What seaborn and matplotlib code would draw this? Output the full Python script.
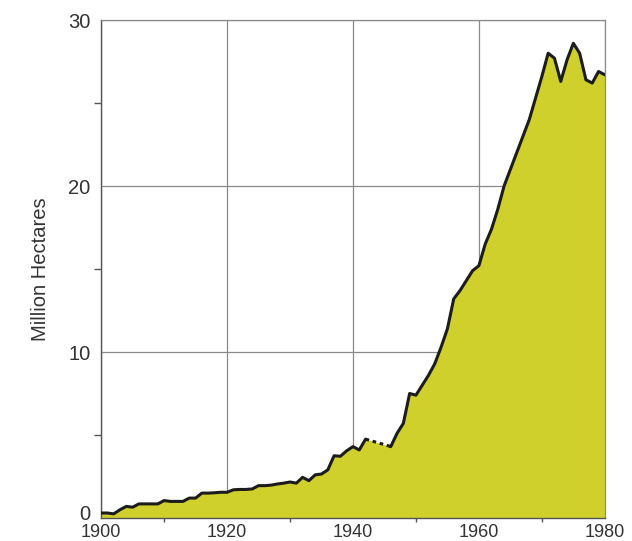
import numpy as np
import pandas as pd
import seaborn as sns
import matplotlib
matplotlib.use('Agg')
import matplotlib.pyplot as plt
import matplotlib.transforms as mtrans

# annual values, million hectares
years = list(range(1900, 1981))
hectares = [0.3, 0.3, 0.25, 0.5, 0.7, 0.65, 0.85, 0.85, 0.85, 0.85,
            1.05, 1.0, 1.0, 1.0, 1.2, 1.2, 1.5, 1.5, 1.52, 1.55,
            1.55, 1.7, 1.72, 1.72, 1.75, 1.95, 1.95, 1.98, 2.05, 2.1,
            2.17, 2.1, 2.45, 2.25, 2.6, 2.65, 2.9, 3.75, 3.72, 4.05,
            4.3, 4.1, 4.75, 4.64, 4.53, 4.42, 4.3, 5.1, 5.7, 7.5,
            7.4, 8.0, 8.6, 9.3, 10.3, 11.4, 13.2, 13.7, 14.3, 14.9,
            15.2, 16.5, 17.4, 18.6, 20.0, 21.0, 22.0, 23.0, 24.0, 25.3,
            26.6, 28.0, 27.7, 26.3, 27.6, 28.6, 28.0, 26.4, 26.2, 26.9,
            26.7]
gap_start, gap_end = 1942, 1946  # war years, estimated (dotted)

df = pd.DataFrame({'year': years, 'ha': hectares})

sns.set_style('white')
plt.rcParams['font.family'] = ['Liberation Sans', 'DejaVu Sans']

fig = plt.figure(figsize=(6.32, 5.41), dpi=100)
ax = fig.add_axes([0.160, 0.0425, 0.797, 0.9205])

ax.fill_between(df['year'], df['ha'], 0, color='#cfd02c', zorder=2, linewidth=0)

before = df[df['year'] <= gap_start]
gap = df[(df['year'] >= gap_start) & (df['year'] <= gap_end)]
after = df[df['year'] >= gap_end]
sns.lineplot(data=before, x='year', y='ha', color='#1c1c1c', linewidth=2.2, ax=ax, zorder=3)
sns.lineplot(data=after, x='year', y='ha', color='#1c1c1c', linewidth=2.2, ax=ax, zorder=3)
sns.lineplot(data=gap, x='year', y='ha', color='#1c1c1c', linewidth=2.2, ax=ax, zorder=3,
             linestyle=(0, (1.2, 1.2)))

ax.set_xlim(1900, 1980)
ax.set_ylim(0, 30)
ax.set_xticks([1900, 1920, 1940, 1960, 1980])
ax.set_xticks([1910, 1930, 1950, 1970], minor=True)
ax.set_yticks([0, 10, 20, 30])
ax.set_yticks([5, 15, 25], minor=True)
ax.grid(True, which='major', color='#8a8a8a', linewidth=0.9, zorder=1)
ax.set_axisbelow(True)

for s in ['top', 'right']:
    ax.spines[s].set_color('#8a8a8a')
    ax.spines[s].set_linewidth(0.9)
for s in ['left', 'bottom']:
    ax.spines[s].set_color('#555555')
    ax.spines[s].set_linewidth(1.0)

ax.tick_params(axis='both', which='both', direction='out', color='#555555',
               labelcolor='#333333')
ax.tick_params(axis='y', which='major', length=6, width=1, pad=1.5, labelsize=14.5)
ax.tick_params(axis='y', which='minor', length=5, width=1, left=True)
ax.tick_params(axis='x', which='major', length=3, width=1, pad=1.5, labelsize=13)
ax.tick_params(axis='x', which='minor', length=3, width=1, bottom=True)

# lift the "0" a little so it clears the "1900" below it
zero = ax.get_yticklabels()[0]
zero.set_transform(zero.get_transform() + mtrans.ScaledTranslation(0, 4 / 72, fig.dpi_scale_trans))

ax.set_xlabel('')
ax.set_ylabel('Million Hectares', fontsize=14.5, color='#333333', labelpad=13)

fig.savefig('out.png', dpi=100)
